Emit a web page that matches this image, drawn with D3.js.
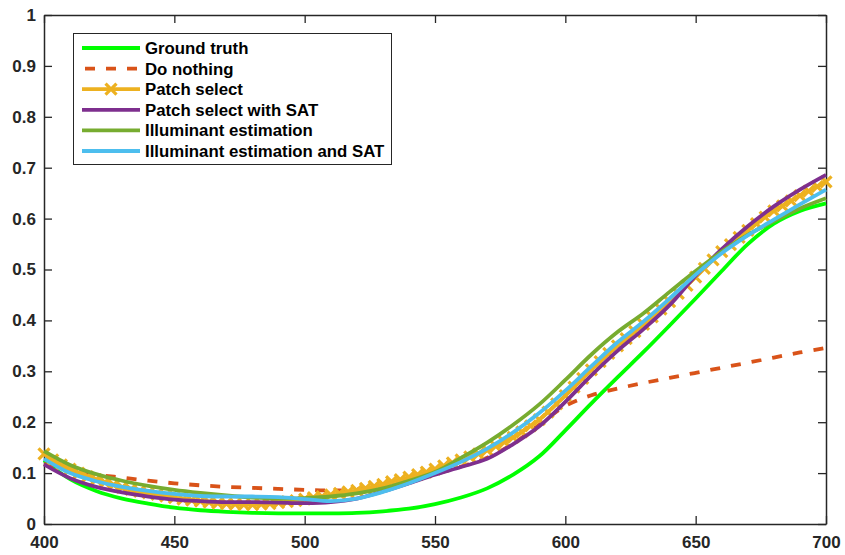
<!DOCTYPE html>
<html>
<head>
<meta charset="utf-8">
<script src="https://cdn.jsdelivr.net/npm/d3@7"></script>
<style>
  body { margin: 0; background: #fff; }
  text { font-family: "Liberation Sans", Arial, sans-serif; font-weight: bold; }
</style>
</head>
<body>
<script>

// wavelengths (nm) for the smooth curves
var wavelengths = [400, 410, 420, 430, 440, 450, 460, 470, 480, 490, 500,
    510, 520, 530, 540, 550, 560, 570, 580, 590, 600,
    610, 620, 630, 640, 650, 660, 670, 680, 690, 700];

var groundTruth = [0.125, 0.088, 0.065, 0.050, 0.040, 0.032, 0.027, 0.024, 0.022, 0.021, 0.021,
    0.021, 0.022, 0.025, 0.030, 0.039, 0.052, 0.070, 0.097, 0.133, 0.184,
    0.237, 0.288, 0.338, 0.390, 0.443, 0.497, 0.550, 0.590, 0.615, 0.630];

var doNothing = [0.118, 0.104, 0.097, 0.091, 0.085, 0.080, 0.076, 0.073, 0.071, 0.069, 0.067,
    0.066, 0.068, 0.075, 0.085, 0.098, 0.113, 0.130, 0.158, 0.195, 0.232,
    0.253, 0.266, 0.277, 0.287, 0.297, 0.307, 0.317, 0.327, 0.337, 0.346];

var patchSelectSAT = [0.117, 0.090, 0.073, 0.062, 0.054, 0.048, 0.045, 0.043, 0.043, 0.042, 0.041,
    0.043, 0.050, 0.064, 0.080, 0.097, 0.112, 0.128, 0.157, 0.192, 0.240,
    0.292, 0.340, 0.383, 0.430, 0.488, 0.540, 0.585, 0.624, 0.657, 0.686];

var illumEst = [0.143, 0.116, 0.098, 0.085, 0.075, 0.067, 0.061, 0.056, 0.052, 0.050, 0.051,
    0.054, 0.060, 0.070, 0.085, 0.102, 0.130, 0.160, 0.195, 0.235, 0.283,
    0.333, 0.377, 0.414, 0.456, 0.497, 0.535, 0.568, 0.595, 0.620, 0.640];

var illumEstSAT = [0.128, 0.100, 0.084, 0.073, 0.065, 0.059, 0.055, 0.054, 0.054, 0.053, 0.049,
    0.045, 0.050, 0.063, 0.080, 0.100, 0.122, 0.148, 0.180, 0.218, 0.262,
    0.310, 0.357, 0.398, 0.443, 0.490, 0.532, 0.567, 0.598, 0.628, 0.657];

// patch select is sampled more densely (one marker per sample, 400..700)
var patchSelect = [0.138, 0.126, 0.116, 0.108, 0.100, 0.093, 0.087, 0.082, 0.077,
    0.072, 0.068, 0.064, 0.061, 0.058, 0.055, 0.052, 0.049, 0.047,
    0.045, 0.043, 0.041, 0.040, 0.039, 0.038, 0.038, 0.039, 0.040,
    0.042, 0.044, 0.046, 0.049, 0.052, 0.054, 0.057, 0.060, 0.063,
    0.066, 0.070, 0.074, 0.078, 0.083, 0.087, 0.092, 0.097, 0.102,
    0.108, 0.114, 0.120, 0.126, 0.132, 0.138, 0.145, 0.153, 0.161,
    0.170, 0.181, 0.193, 0.205, 0.220, 0.236, 0.252, 0.269, 0.286,
    0.303, 0.319, 0.335, 0.350, 0.364, 0.378, 0.392, 0.407, 0.422,
    0.437, 0.453, 0.469, 0.485, 0.502, 0.519, 0.535, 0.549, 0.563,
    0.577, 0.590, 0.603, 0.615, 0.625, 0.635, 0.645, 0.654, 0.663,
    0.672];
var patchWavelengths = d3.range(patchSelect.length).map(function(i) { return 400 + i * 300 / (patchSelect.length - 1); });

var legendNames = ['Ground truth', 'Do nothing', 'Patch select', 'Patch select with SAT',
    'Illuminant estimation', 'Illuminant estimation and SAT'];
var legendColors = ['#00ff00', '#d95319', '#edb120', '#7e2f8e', '#77ac30', '#4dbeee'];

var xTicks = [400, 450, 500, 550, 600, 650, 700];
var yTicks = [0, 0.1, 0.2, 0.3, 0.4, 0.5, 0.6, 0.7, 0.8, 0.9, 1];

function plot_it() {

    var margin = { top: 15, right: 19, bottom: 31, left: 44 };
    var width = 845 - margin.left - margin.right,
        height = 555 - margin.top - margin.bottom;

    var svg = d3.select("body").append("svg")
        .attr("width", 845)
        .attr("height", 555)
        .append("g")
        .attr("transform", "translate(" + margin.left + "," + margin.top + ")");

    var x = d3.scaleLinear().domain([400, 700]).range([0, width]);
    var y = d3.scaleLinear().domain([0, 1]).range([height, 0]);

    var axisColor = '#262626';
    var fmt = function(d) { return d === 0 || d === 1 ? String(d) : d3.format('.1f')(d); };

    // box axes with inward ticks, like matlab
    var axes = [
        { ax: d3.axisBottom(x).tickValues(xTicks).tickFormat(d3.format('d')), t: 'translate(0,' + height + ')', labels: true },
        { ax: d3.axisTop(x).tickValues(xTicks), t: 'translate(0,0)', labels: false },
        { ax: d3.axisLeft(y).tickValues(yTicks).tickFormat(fmt), t: 'translate(0,0)', labels: true },
        { ax: d3.axisRight(y).tickValues(yTicks), t: 'translate(' + width + ',0)', labels: false }
    ];
    axes.forEach(function(a) {
        var g = svg.append('g').attr('transform', a.t)
            .call(a.ax.tickSizeInner(-8).tickSizeOuter(0).tickPadding(a.labels ? 8 : 0));
        g.select('.domain').attr('stroke', axisColor).attr('stroke-width', 1.5);
        g.selectAll('.tick line').attr('stroke', axisColor).attr('stroke-width', 1.3);
        g.selectAll('.tick text')
            .attr('fill', axisColor)
            .attr('font-size', '17px')
            .attr('font-family', '"Liberation Sans", Arial, sans-serif')
            .attr('font-weight', 'bold');
        if (!a.labels) g.selectAll('.tick text').remove();
    });
    svg.selectAll('.tick text').filter(function() { return this.parentNode.parentNode.getAttribute('transform') === 'translate(0,' + height + ')'; })
        .attr('dy', '0.71em').attr('y', 12);

    var line = d3.line()
        .x(function(d) { return x(d[0]); })
        .y(function(d) { return y(d[1]); })
        .curve(d3.curveCatmullRom);

    function zipWl(vals, wls) { return vals.map(function(v, i) { return [wls[i], v]; }); }

    var lw = 3.8;

    // ground truth
    svg.append('path').attr('d', line(zipWl(groundTruth, wavelengths)))
        .attr('fill', 'none').attr('stroke', legendColors[0]).attr('stroke-width', lw);

    // do nothing
    svg.append('path').attr('d', line(zipWl(doNothing, wavelengths)))
        .attr('fill', 'none').attr('stroke', legendColors[1]).attr('stroke-width', lw)
        .attr('stroke-dasharray', '10,11');

    // patch select with x markers
    var patchData = zipWl(patchSelect, patchWavelengths);
    svg.append('path').attr('d', line(patchData))
        .attr('fill', 'none').attr('stroke', legendColors[2]).attr('stroke-width', lw);
    var ms = 5.5;
    svg.append('g').selectAll('path').data(patchData).enter().append('path')
        .attr('d', function(d) {
            var cx = x(d[0]), cy = y(d[1]);
            return 'M' + (cx - ms) + ',' + (cy - ms) + 'L' + (cx + ms) + ',' + (cy + ms) +
                'M' + (cx - ms) + ',' + (cy + ms) + 'L' + (cx + ms) + ',' + (cy - ms);
        })
        .attr('stroke', legendColors[2]).attr('stroke-width', 3.2).attr('fill', 'none');

    // the rest
    [[patchSelectSAT, 3], [illumEst, 4], [illumEstSAT, 5]].forEach(function(s) {
        svg.append('path').attr('d', line(zipWl(s[0], wavelengths)))
            .attr('fill', 'none').attr('stroke', legendColors[s[1]]).attr('stroke-width', lw);
    });

    // legend
    var legend = svg.append('g').attr('transform', 'translate(' + (73 - margin.left) + ',' + (33 - margin.top) + ')');
    legend.append('rect').attr('x', 0.5).attr('y', 0.5).attr('width', 318).attr('height', 131)
        .attr('fill', '#fff').attr('stroke', axisColor).attr('stroke-width', 1);

    legendNames.forEach(function(name, i) {
        var cy = 15 + i * 20.6;
        var l = legend.append('line')
            .attr('x1', 9).attr('x2', 67).attr('y1', cy).attr('y2', cy)
            .attr('stroke', legendColors[i]).attr('stroke-width', lw);
        if (i === 1) l.attr('stroke-dasharray', '10,11').attr('x1', 12);
        if (i === 2) {
            legend.append('path')
                .attr('d', 'M' + (38 - ms) + ',' + (cy - ms) + 'L' + (38 + ms) + ',' + (cy + ms) +
                    'M' + (38 - ms) + ',' + (cy + ms) + 'L' + (38 + ms) + ',' + (cy - ms))
                .attr('stroke', legendColors[2]).attr('stroke-width', 3.2);
        }
        legend.append('text').text(name)
            .attr('x', 72).attr('y', cy + 6)
            .attr('font-size', '16.8px')
            .attr('fill', '#000');
    });
}

plot_it();
</script>
</body>
</html>
